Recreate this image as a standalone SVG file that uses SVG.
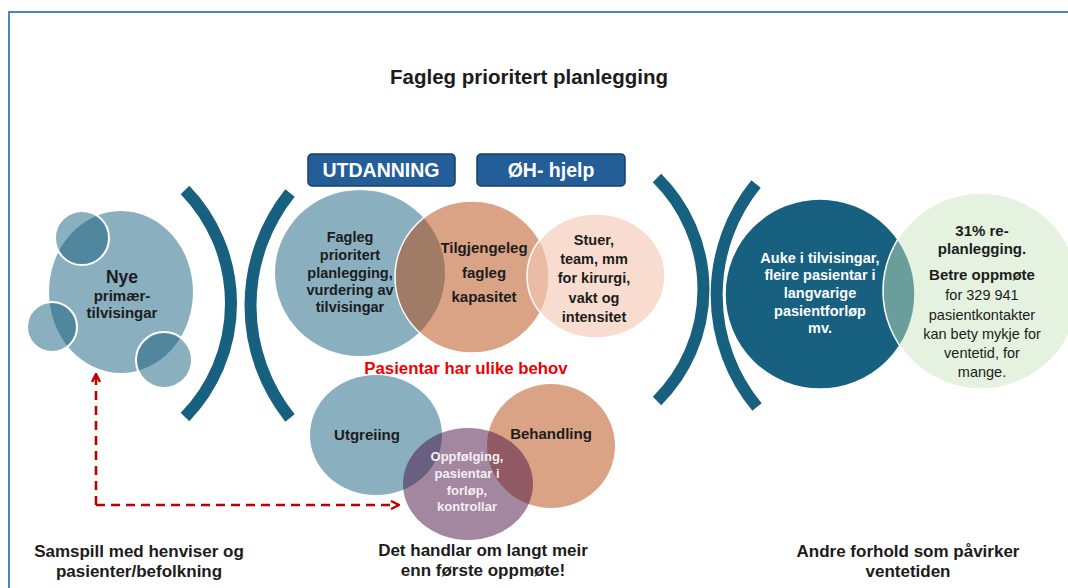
<svg xmlns="http://www.w3.org/2000/svg" width="1068" height="588" viewBox="0 0 1068 588">
<style>
text{font-family:"Liberation Sans",Arial,sans-serif;font-weight:bold;fill:#1c1c1c;text-anchor:middle}
.w{fill:#ffffff}
.reg{font-weight:normal}
.teal{fill:#16607f;fill-opacity:0.5}
.orange{fill:#b6480c;fill-opacity:0.5}
.arc{fill:none;stroke:#17607f;stroke-width:12}
.box{fill:#235e98;stroke:#173f66;stroke-width:1.5}
.red{fill:none;stroke:#c00000;stroke-width:2.6}
</style>
<defs>
<marker id="chev" viewBox="0 0 10 10" refX="9" refY="5" markerWidth="10" markerHeight="10" markerUnits="userSpaceOnUse" orient="auto">
<path d="M1 1 L9 5 L1 9" fill="none" stroke="#c00000" stroke-width="2.4"/>
</marker>
</defs>
<rect width="1068" height="588" fill="#ffffff"/>
<path d="M9 588 V12 H1068" fill="none" stroke="#4f82c6" stroke-width="2"/>

<g id="title"><text x="529" y="84" font-size="20.5">Fagleg prioritert planlegging</text></g>

<g id="nye">
<ellipse class="teal" cx="121" cy="292" rx="72" ry="81"/>
<circle class="teal" cx="82" cy="238" r="27" stroke="#ffffff" stroke-width="2"/>
<circle class="teal" cx="52" cy="327" r="25" stroke="#ffffff" stroke-width="2"/>
<circle class="teal" cx="164" cy="360" r="28" stroke="#ffffff" stroke-width="2"/>
<text x="122" y="283" font-size="17.5">Nye</text>
<text x="122" y="301" font-size="15">primær-</text>
<text x="122" y="318" font-size="15">tilvisingar</text>
</g>

<g id="utdanning">
<rect class="box" x="308" y="154" width="147" height="32" rx="4"/>
<text class="w" x="381" y="177" font-size="19.5">UTDANNING</text>
</g>
<g id="oh-hjelp">
<rect class="box" x="477" y="154" width="148" height="32" rx="4"/>
<text class="w" x="551" y="177" font-size="19.5">ØH- hjelp</text>
</g>

<g id="fagleg">
<ellipse class="teal" cx="360" cy="273" rx="85" ry="83"/>
<text font-size="14.5"><tspan x="350" y="242">Fagleg</tspan><tspan x="350" y="260">prioritert</tspan><tspan x="350" y="278">planlegging,</tspan><tspan x="350" y="295">vurdering av</tspan><tspan x="350" y="312">tilvisingar</tspan></text>
</g>
<g id="kapasitet">
<ellipse class="orange" cx="472" cy="277" rx="77" ry="76" stroke="#ffffff" stroke-width="1.5"/>
<text font-size="15"><tspan x="484" y="253">Tilgjengeleg</tspan><tspan x="484" y="278">fagleg</tspan><tspan x="484" y="302">kapasitet</tspan></text>
</g>
<g id="stuer">
<ellipse cx="596" cy="276" rx="69" ry="62" fill="#f4c8b4" fill-opacity="0.64" stroke="#ffffff" stroke-width="1.5"/>
<text font-size="14.5"><tspan x="594" y="245">Stuer,</tspan><tspan x="594" y="264">team, mm</tspan><tspan x="594" y="283">for kirurgi,</tspan><tspan x="594" y="303">vakt og</tspan><tspan x="594" y="322">intensitet</tspan></text>
</g>

<g id="behov"><text x="466" y="374" font-size="16.8" style="fill:#f00000">Pasientar har ulike behov</text></g>

<g id="utgreiing">
<ellipse class="teal" cx="376" cy="435" rx="66" ry="60"/>
<text x="367" y="440" font-size="15">Utgreiing</text>
</g>
<g id="behandling">
<ellipse class="orange" cx="551" cy="446" rx="64" ry="62"/>
<text x="551" y="439" font-size="15">Behandling</text>
</g>
<g id="oppfolging">
<ellipse cx="468" cy="484" rx="65" ry="56" fill="#470f41" fill-opacity="0.5"/>
<text class="w" font-size="13" style="fill:#f4eef4"><tspan x="467" y="461">Oppfølging,</tspan><tspan x="467" y="478">pasientar i</tspan><tspan x="467" y="495">forløp,</tspan><tspan x="467" y="511">kontrollar</tspan></text>
</g>

<g id="auke">
<circle cx="820" cy="294" r="95" fill="#17607f" stroke="#ffffff" stroke-width="1.5"/>
<text class="w" font-size="14.5"><tspan x="820" y="263">Auke i tilvisingar,</tspan><tspan x="820" y="280">fleire pasientar i</tspan><tspan x="820" y="298">langvarige</tspan><tspan x="820" y="316">pasientforløp</tspan><tspan x="820" y="333">mv.</tspan></text>
</g>
<g id="replanlegging">
<circle cx="981" cy="291" r="98" fill="#c5e3bb" fill-opacity="0.47" stroke="#ffffff" stroke-width="1.5"/>
<text font-size="15"><tspan x="982" y="236">31% re-</tspan><tspan x="982" y="254">planlegging.</tspan><tspan x="982" y="280">Betre oppmøte</tspan></text>
<text class="reg" font-size="14.5"><tspan x="982" y="300">for 329 941</tspan><tspan x="982" y="320">pasientkontakter</tspan><tspan x="982" y="339">kan bety mykje for</tspan><tspan x="982" y="358">ventetid, for</tspan><tspan x="982" y="377">mange.</tspan></text>
</g>

<g id="brackets">
<path class="arc" d="M185 190 A163 163 0 0 1 185 417"/>
<path class="arc" d="M290 193 A180 180 0 0 0 290 418"/>
<path class="arc" d="M657 178 A157 157 0 0 1 657 401"/>
<path class="arc" d="M756 184 A176 176 0 0 0 757 407"/>
</g>

<g id="connectors">
<path class="red" d="M96 505 V374" stroke-dasharray="9 6" marker-end="url(#chev)"/>
<path class="red" d="M96 505 H399" stroke-dasharray="9 6" marker-end="url(#chev)"/>
</g>

<g id="samspill"><text font-size="17"><tspan x="139" y="557">Samspill med henviser og</tspan><tspan x="139" y="577">pasienter/befolkning</tspan></text></g>
<g id="handlar"><text font-size="17"><tspan x="483" y="556">Det handlar om langt meir</tspan><tspan x="483" y="576">enn første oppmøte!</tspan></text></g>
<g id="andre"><text font-size="17"><tspan x="908" y="557">Andre forhold som påvirker</tspan><tspan x="908" y="577">ventetiden</tspan></text></g>
</svg>
